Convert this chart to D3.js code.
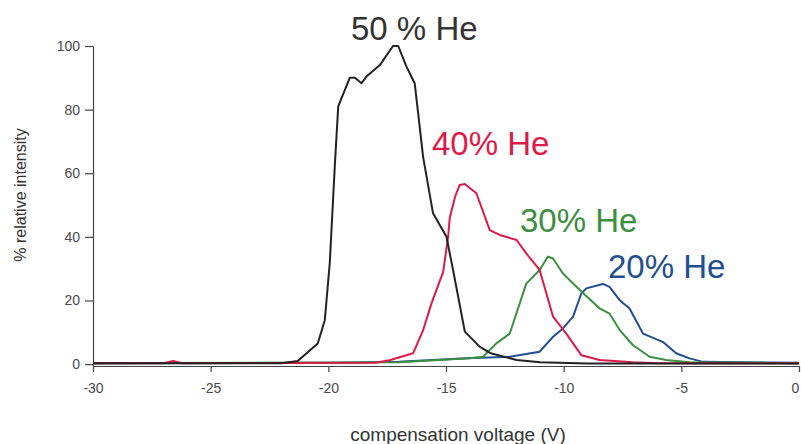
<!DOCTYPE html>
<meta charset="utf-8">
<head>
<script type="text/javascript" src="https://cdn.jsdelivr.net/npm/d3@7/dist/d3.min.js"></script>
</head>
<style type="text/css">
  body {
    margin: 0;
    background: #fff;
    font-family: "Liberation Sans", Arial, sans-serif;
  }
  .axis path, .axis line {
    stroke: #444;
    stroke-width: 1.2px;
  }
  .axis text {
    fill: #4a4a4a;
    font-size: 14px;
    font-family: "Liberation Sans", Arial, sans-serif;
  }
  .trace {
    fill: none;
    stroke-width: 2px;
    stroke-linejoin: round;
  }
</style>
<body></body>
<script type="text/javascript">

var width = 801,
    height = 444;

// compensation voltage (V) / % relative intensity
var he50V = [-30, -22, -21.3, -20.45, -20.15, -19.94, -19.72, -19.58, -19.09, -18.87, -18.59, -18.38, -17.81, -17.25, -17.03, -16.68, -16.33, -15.97, -15.55, -14.98, -14.7, -14.2, -13.57, -13.1, -12.0, -11.0, -9, 0];
var he50I = [0.3, 0.3, 1.0, 6.5, 13.8, 31.7, 63, 81, 90, 90, 88.3, 90.4, 94, 100, 100, 93.5, 88.3, 65, 47.4, 40, 29.6, 10.2, 5.5, 3.4, 1.3, 0.6, 0.2, 0.2];

var he40V = [-30, -27, -26.6, -26.2, -18, -17.4, -16.4, -15.97, -15.62, -15.12, -14.91, -14.84, -14.6, -14.42, -14.2, -13.71, -13.14, -12.72, -12.0, -11.59, -11.02, -10.45, -9.89, -9.25, -8.47, -7.07, -6, 0];
var he40I = [0.3, 0.3, 1.0, 0.3, 0.4, 1.2, 3.4, 10.7, 19, 29, 40, 46, 53, 56.3, 56.6, 53.7, 42.1, 40.6, 39, 34.8, 29.6, 14.9, 9.6, 2.8, 1.3, 0.6, 0.3, 0.3];

var he30V = [-30, -17, -14, -13.43, -12.86, -12.29, -11.59, -11.02, -10.67, -10.45, -10.03, -9.46, -8.47, -8.05, -7.62, -7.06, -6.35, -5.64, -4.65, 0];
var he30I = [0.3, 0.6, 1.8, 2.3, 6.5, 9.6, 25.3, 29.6, 33.8, 33.2, 28.5, 24.3, 17.5, 15.9, 10.7, 6, 2.3, 1.3, 0.6, 0.3];

var he20V = [-30, -20, -17, -14.13, -12.29, -11.02, -10.45, -10.03, -9.6, -9.25, -9.04, -8.33, -8.05, -7.62, -7.2, -6.63, -5.79, -5.22, -4.65, -4.08, 0];
var he20I = [0.3, 0.4, 0.7, 1.8, 2.3, 3.9, 8.6, 11.2, 14.9, 22.2, 23.8, 25.2, 24.3, 20.1, 17.5, 9.6, 7, 3.4, 1.8, 0.7, 0.4];

var xTicks = [-30, -25, -20, -15, -10, -5, 0];
var yTicks = [0, 20, 40, 60, 80, 100];

var series = [
  {name: "20% He", v: he20V, i: he20I, color: "#1f4f90", tx: 608, ty: 278},
  {name: "30% He", v: he30V, i: he30I, color: "#3c8f40", tx: 520, ty: 232},
  {name: "40% He", v: he40V, i: he40I, color: "#de1a4a", tx: 432, ty: 155},
  {name: "50 % He", v: he50V, i: he50I, color: "#222", tx: 351, ty: 40, textColor: "#333"}
];

var x = d3.scaleLinear().domain([-30, 0]).range([93, 799]);
var y = d3.scaleLinear().domain([-0.6, 100]).range([366, 46]);

var svg = d3.select("body").append("svg")
    .attr("width", width)
    .attr("height", height);

svg.append("g")
    .attr("class", "axis")
    .attr("transform", "translate(0," + y(-0.6) + ")")
    .call(d3.axisBottom(x).tickValues(xTicks).tickSize(6).tickSizeOuter(0).tickFormat(function(d) { return String(d); }))
    .selectAll("text")
    .attr("y", 17)
    .attr("dx", function(d) { return d === 0 ? "-0.3em" : null; });

svg.append("g")
    .attr("class", "axis")
    .attr("transform", "translate(" + x(-30) + ",0)")
    .call(d3.axisLeft(y).tickValues(yTicks).tickSize(8).tickPadding(5).tickSizeOuter(0));

var line = d3.line()
    .x(function(d) { return x(d[0]); })
    .y(function(d) { return y(d[1]); });

series.forEach(function(s) {
  var pts = d3.zip(s.v, s.i);
  svg.append("path")
      .attr("class", "trace")
      .attr("d", line(pts))
      .style("stroke", s.color);
  svg.append("text")
      .attr("x", s.tx)
      .attr("y", s.ty)
      .style("font-size", "33px")
      .style("fill", s.textColor || s.color)
      .text(s.name);
});

svg.append("text")
    .attr("x", 458)
    .attr("y", 441)
    .attr("text-anchor", "middle")
    .style("font-size", "19px")
    .style("fill", "#333")
    .text("compensation voltage (V)");

svg.append("text")
    .attr("transform", "translate(26,195) rotate(-90)")
    .attr("text-anchor", "middle")
    .style("font-size", "16px")
    .style("fill", "#333")
    .text("% relative intensity");

</script>
</html>
